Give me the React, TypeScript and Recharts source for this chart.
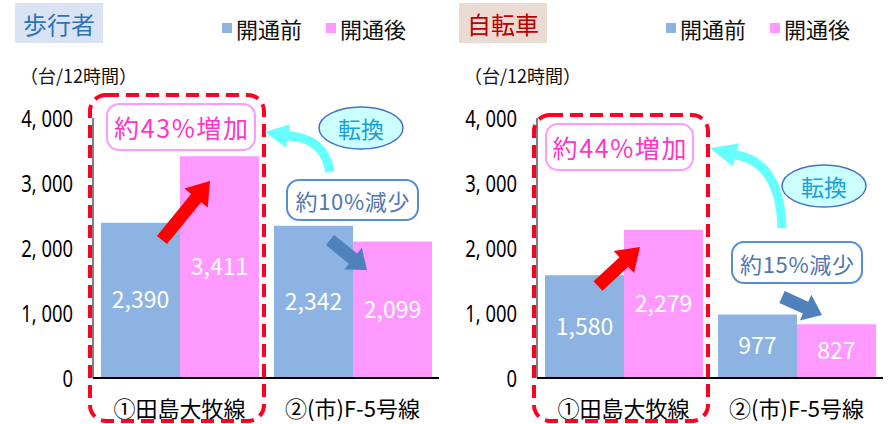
import { BarChart, Bar, XAxis, YAxis, LabelList } from "recharts";

const categories = ["①田島大牧線", "②(市)F-5号線"];
const seriesNames = ["開通前", "開通後"];
const walkBefore = [2390, 2342];
const walkAfter = [3411, 2099];
const bikeBefore = [1580, 977];
const bikeAfter = [2279, 827];
const yTicks = [0, 1000, 2000, 3000, 4000];
const unitLabel = "（台/12時間）";

const BLUE = "#8db3e2";
const PINK = "#ff99ff";
const JP = "'Noto Sans CJK JP', 'Noto Sans', sans-serif";

// block arrow polygon from tail (x1,y1) to tip (x2,y2)
function arrowPoints(x1: number, y1: number, x2: number, y2: number, shaft: number, headW: number, headL: number) {
  const dx = x2 - x1;
  const dy = y2 - y1;
  const len = Math.hypot(dx, dy);
  const ux = dx / len;
  const uy = dy / len;
  const px = -uy;
  const py = ux;
  const bx = x2 - ux * headL;
  const by = y2 - uy * headL;
  const s = shaft / 2;
  const h = headW / 2;
  const pts = [
    [x1 + px * s, y1 + py * s],
    [bx + px * s, by + py * s],
    [bx + px * h, by + py * h],
    [x2, y2],
    [bx - px * h, by - py * h],
    [bx - px * s, by - py * s],
    [x1 - px * s, y1 - py * s],
  ];
  return pts.map((p) => p.join(",")).join(" ");
}

function headPoints(bx: number, by: number, tx: number, ty: number, w: number) {
  const len = Math.hypot(tx - bx, ty - by);
  const px = -(ty - by) / len;
  const py = (tx - bx) / len;
  return `${bx + px * w / 2},${by + py * w / 2} ${tx},${ty} ${bx - px * w / 2},${by - py * w / 2}`;
}

const YTick = (props: any) => {
  const { x, y, payload } = props;
  const label = Number(payload.value).toLocaleString("en-US").replace(",", ", ");
  return (
    <text
      transform={`translate(${x},${y}) scale(0.8,1.04)`}
      dy="0.36em"
      textAnchor="end"
      fontFamily="'Noto Sans', sans-serif"
      fontSize={23}
      fill="#000"
    >
      {label}
    </text>
  );
};

const XTick = (props: any) => {
  const { x, y, payload } = props;
  return (
    <text x={x} y={y + 21} dominantBaseline="central" textAnchor="middle" fontFamily={JP} fontSize={22} fill="#000">
      {payload.value}
    </text>
  );
};

interface Notes {
  dashTop: number;
  upBox: [number, number, number, number];
  upText: string;
  redArrow: [number, number, number, number];
  curve: string;
  cyanHead: [number, number, number, number];
  ellipse: [number, number];
  downBox: [number, number, number, number];
  downText: string;
  blueArrow: [number, number, number, number];
}

function Panel({
  title,
  titleColor,
  titleBg,
  before,
  after,
  notes,
}: {
  title: string;
  titleColor: string;
  titleBg: string;
  before: number[];
  after: number[];
  notes: Notes;
}) {
  const data = categories.map((name, i) => ({ name, before: before[i], after: after[i] }));
  const fmt = (v: any) => Number(v).toLocaleString("en-US");
  const n = notes;
  return (
    <div style={{ position: "relative", width: 444, height: 424 }}>
      <BarChart
        width={444}
        height={424}
        data={data}
        margin={{ top: 118, right: 5, left: 0, bottom: 0 }}
        barCategoryGap={8}
        barGap={0}
      >
        <XAxis
          dataKey="name"
          height={46}
          tickLine={false}
          axisLine={{ stroke: "#000", strokeWidth: 2 }}
          tick={<XTick />}
          interval={0}
        />
        <YAxis
          domain={[0, 4000]}
          ticks={yTicks}
          width={93}
          tickLine={false}
          tickMargin={14}
          axisLine={{ stroke: "#000", strokeWidth: 1 }}
          tick={<YTick />}
          interval={0}
        />
        <Bar dataKey="before" name={seriesNames[0]} fill={BLUE} isAnimationActive={false}>
          <LabelList dataKey="before" position="center" fill="#fff" fontSize={23} fontFamily={JP} formatter={fmt} />
        </Bar>
        <Bar dataKey="after" name={seriesNames[1]} fill={PINK} isAnimationActive={false}>
          <LabelList dataKey="after" position="center" fill="#fff" fontSize={23} fontFamily={JP} formatter={fmt} />
        </Bar>
      </BarChart>
      <svg
        width={444}
        height={424}
        style={{ position: "absolute", left: 0, top: 0, pointerEvents: "none" }}
        fontFamily={JP}
      >
        {/* title */}
        <rect x={15} y={3} width={88} height={40} fill={titleBg} />
        <text x={59} y={23} dominantBaseline="central" textAnchor="middle" fontSize={24} fill={titleColor}>
          {title}
        </text>
        {/* legend */}
        <rect x={222} y={23} width={10} height={10} fill={BLUE} />
        <text x={236} y={28} dominantBaseline="central" fontSize={22} fill="#111">
          {seriesNames[0]}
        </text>
        <rect x={326} y={23} width={10} height={10} fill={PINK} />
        <text x={340} y={28} dominantBaseline="central" fontSize={22} fill="#111">
          {seriesNames[1]}
        </text>
        {/* unit */}
        <text x={20} y={75} dominantBaseline="central" fontSize={18} fill="#111">
          {unitLabel}
        </text>
        {/* dashed highlight */}
        <rect
          x={90}
          y={n.dashTop}
          width={174}
          height={421 - n.dashTop}
          rx={16}
          fill="none"
          stroke="#ff0022"
          strokeWidth={4}
          strokeDasharray="13 7"
        />
        {/* increase box */}
        <rect
          x={n.upBox[0]}
          y={n.upBox[1]}
          width={n.upBox[2]}
          height={n.upBox[3]}
          rx={12}
          fill="#fff"
          stroke={PINK}
          strokeWidth={2}
        />
        <text
          x={n.upBox[0] + n.upBox[2] / 2}
          y={n.upBox[1] + n.upBox[3] / 2}
          dominantBaseline="central"
          textAnchor="middle"
          fontSize={25}
          textLength={134}
          lengthAdjust="spacing"
          fill="#ff33cc"
        >
          {n.upText}
        </text>
        <polygon points={arrowPoints(...n.redArrow, 13, 30, 22)} fill="#ff0000" />
        {/* shift arrow */}
        <path d={n.curve} fill="none" stroke="#66ffff" strokeWidth={9} />
        <polygon points={headPoints(...n.cyanHead, 24)} fill="#66ffff" />
        <ellipse cx={n.ellipse[0]} cy={n.ellipse[1]} rx={42} ry={21} fill="#ccffff" stroke="#4472c4" strokeWidth={1.5} />
        <text x={n.ellipse[0]} y={n.ellipse[1]} dominantBaseline="central" textAnchor="middle" fontSize={23} fill="#1a9fd6">
          転換
        </text>
        {/* decrease box */}
        <rect
          x={n.downBox[0]}
          y={n.downBox[1]}
          width={n.downBox[2]}
          height={n.downBox[3]}
          rx={12}
          fill="#fff"
          stroke="#558ed5"
          strokeWidth={2}
        />
        <text
          x={n.downBox[0] + n.downBox[2] / 2}
          y={n.downBox[1] + n.downBox[3] / 2}
          dominantBaseline="central"
          textAnchor="middle"
          fontSize={22}
          textLength={114}
          lengthAdjust="spacing"
          fill="#4f76b0"
        >
          {n.downText}
        </text>
        <polygon points={arrowPoints(...n.blueArrow, 13, 28, 18)} fill="#4f81bd" />
      </svg>
    </div>
  );
}

const walkNotes: Notes = {
  dashTop: 95,
  upBox: [107, 104, 148, 46],
  upText: "約43%増加",
  redArrow: [162, 240, 210, 181],
  curve: "M330,172 Q324,137 287,136",
  cyanHead: [288, 136, 265, 132],
  ellipse: [361, 128],
  downBox: [287, 180, 131, 40],
  downText: "約10%減少",
  blueArrow: [330, 240, 367, 270],
};

const bikeNotes: Notes = {
  dashTop: 115,
  upBox: [102, 124, 147, 46],
  upText: "約44%増加",
  redArrow: [154, 286, 196, 247],
  curve: "M338,228 Q336,162 292,155",
  cyanHead: [292, 155, 266, 148],
  ellipse: [380, 186],
  downBox: [288, 242, 130, 41],
  downText: "約15%減少",
  blueArrow: [338, 297, 378, 315],
};

export default function App() {
  return (
    <div
      style={{
        position: "absolute",
        left: 0,
        top: 0,
        width: 888,
        height: 424,
        display: "flex",
        background: "#fff",
        overflow: "hidden",
      }}
    >
      <Panel title="歩行者" titleColor="#2e75b6" titleBg="#dae3f3" before={walkBefore} after={walkAfter} notes={walkNotes} />
      <Panel title="自転車" titleColor="#c00000" titleBg="#eadbd5" before={bikeBefore} after={bikeAfter} notes={bikeNotes} />
    </div>
  );
}
